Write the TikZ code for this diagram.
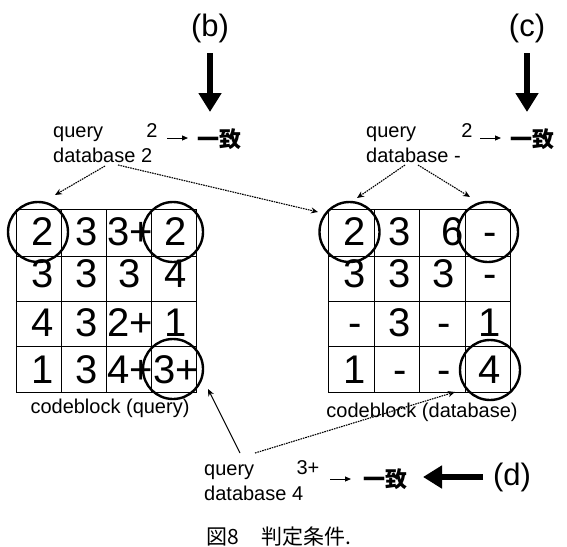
\documentclass[tikz,border=0pt]{standalone}
\usepackage{fontspec}
\setmainfont{Liberation Sans}
\newfontfamily\cjk{Noto Sans CJK JP}
\usetikzlibrary{arrows.meta}
\begin{document}
\begin{tikzpicture}[x=1pt,y=-1pt,
  gridln/.style={line width=0.9pt},
  cell/.style={inner sep=0pt,font=\fontsize{40}{40}\selectfont,text height=28.6pt,text depth=0pt},
  ring/.style={draw,circle,line width=2.4pt,minimum size=60pt,inner sep=0pt},
  lbl/.style={font=\fontsize{20}{20}\selectfont,inner sep=0pt},
  cjkl/.style={font=\fontsize{22}{22}\selectfont\cjk\bfseries,inner sep=0pt},
  capt/.style={font=\fontsize{21}{21}\selectfont\cjk,inner sep=0pt},
  big/.style={font=\fontsize{31}{31}\selectfont,inner sep=0pt},
  bigarr/.style={line width=6.5pt,-{Triangle[width=22pt,length=19pt]}},
  smallarr/.style={line width=1pt,-{Triangle[width=5pt,length=6pt]}},
  dotarr/.style={dash pattern=on 1.6pt off 0.9pt,line width=1.1pt,-{Stealth[width=6pt,length=7pt]}},
  solarr/.style={line width=0.9pt,-{Stealth[width=6pt,length=7pt]}},
]
\useasboundingbox (0,0) rectangle (567,546);

% ---------- left grid (query)
\draw[gridln] (16,209) rectangle (196,392);
\draw[gridln] (61,209) -- (61,392) (106,209) -- (106,392) (151,209) -- (151,392)
              (16,256) -- (196,256) (16,301) -- (196,301) (16,346) -- (196,346);
\foreach \r/\y in {1/231,2/273,3/322,4/369}{
  \foreach \c/\x in {1/42.5,2/87,3/130,4/176}{
    \coordinate (Lp\r\c) at (\x,\y);
  }
}
\node[cell] (L11) at (Lp11) {2};
\node[cell] (L12) at (Lp12) {3};
\node[cell] (L13) at (Lp13) {3+};
\node[cell] (L14) at (Lp14) {2};
\node[cell] (L21) at (Lp21) {3};
\node[cell] (L22) at (Lp22) {3};
\node[cell] (L23) at (Lp23) {3};
\node[cell] (L24) at (Lp24) {4};
\node[cell] (L31) at (Lp31) {4};
\node[cell] (L32) at (Lp32) {3};
\node[cell] (L33) at (Lp33) {2+};
\node[cell] (L34) at (Lp34) {1};
\node[cell] (L41) at (Lp41) {1};
\node[cell] (L42) at (Lp42) {3};
\node[cell] (L43) at (Lp43) {4+};
\node[cell] (L44) at (Lp44) {3+};
\node[lbl,anchor=base] (Lcap) at (110,413) {codeblock (query)};

% ---------- right grid (database)
\draw[gridln] (328,209) rectangle (510,392);
\draw[gridln] (374,209) -- (374,392) (419,209) -- (419,392) (465,209) -- (465,392)
              (328,256) -- (510,256) (328,301) -- (510,301) (328,346) -- (510,346);
\foreach \r/\y in {1/231,2/273,3/322,4/369}{
  \foreach \c/\x in {1/355,2/400,3/444,4/490}{
    \coordinate (Rp\r\c) at (\x,\y);
  }
}
\node[cell] (R11) at (Rp11) {2};
\node[cell] (R12) at (Rp12) {3};
\node[cell,anchor=east] (R13) at (464,231) {6};
\node[cell] (R14) at (Rp14) {-};
\node[cell] (R21) at (Rp21) {3};
\node[cell] (R22) at (Rp22) {3};
\node[cell] (R23) at (Rp23) {3};
\node[cell] (R24) at (Rp24) {-};
\node[cell] (R31) at (Rp31) {-};
\node[cell] (R32) at (Rp32) {3};
\node[cell] (R33) at (Rp33) {-};
\node[cell] (R34) at (Rp34) {1};
\node[cell] (R41) at (Rp41) {1};
\node[cell] (R42) at (Rp42) {-};
\node[cell] (R43) at (Rp43) {-};
\node[cell] (R44) at (Rp44) {4};
\node[lbl,anchor=base] (Rcap) at (422,417) {codeblock (database)};

% ---------- circles
\node[ring] (cL1) at (38,232) {};
\node[ring] (cL2) at (173,232) {};
\node[ring] (cL3) at (173,369) {};
\node[ring] (cR1) at (349.5,232) {};
\node[ring] (cR2) at (488,232) {};
\node[ring] (cR3) at (490,370) {};

% ---------- (b)
\node[big] (lb) at (210,28) {(b)};
\coordinate (bt) at (210,53);
\coordinate (bh) at (210,112);
\draw[bigarr] (bt) -- (bh);
\node[lbl,anchor=base west] (qb) at (53,137) {query};
\node[lbl,anchor=base] (qb2) at (152,137) {2};
\node[lbl,anchor=base west] (db) at (53,162) {database 2};
\coordinate (ab1) at (167,138);
\coordinate (ab2) at (188,138);
\draw[smallarr] (ab1) -- (ab2);
\node[cjkl] (mb) at (219.5,139) {一致};
\coordinate (db1) at (105,166);
\coordinate (db1t) at (55,195);
\coordinate (db2) at (118,165);
\coordinate (db2t) at (318,212);
\draw[dotarr] (db1) -- (db1t);
\draw[dotarr] (db2) -- (db2t);

% ---------- (c)
\node[big] (lc) at (527,28) {(c)};
\coordinate (ct) at (527,53);
\coordinate (ch) at (527,112);
\draw[bigarr] (ct) -- (ch);
\node[lbl,anchor=base west] (qc) at (366,137) {query};
\node[lbl,anchor=base] (qc2) at (467,137) {2};
\node[lbl,anchor=base west] (dc) at (366,162) {database -};
\coordinate (ac1) at (480,138);
\coordinate (ac2) at (501,138);
\draw[smallarr] (ac1) -- (ac2);
\node[cjkl] (mc) at (532.5,139) {一致};
\coordinate (dc1) at (405,165);
\coordinate (dc1t) at (357,198);
\coordinate (dc2) at (418,165);
\coordinate (dc2t) at (470,197);
\draw[dotarr] (dc1) -- (dc1t);
\draw[dotarr] (dc2) -- (dc2t);

% ---------- (d)
\node[lbl,anchor=base west] (qd) at (204,475) {query};
\node[lbl,anchor=base] (qd2) at (308,474) {3+};
\node[lbl,anchor=base west] (dd) at (204,500) {database 4};
\coordinate (ad1) at (330,479);
\coordinate (ad2) at (351,479);
\draw[smallarr] (ad1) -- (ad2);
\node[cjkl] (md) at (385,479) {一致};
\coordinate (dt) at (483,477);
\coordinate (dh) at (423,477);
\draw[bigarr] (dt) -- (dh);
\node[big] (ld) at (512,477) {(d)};
\coordinate (dd1) at (240,453);
\coordinate (dd1t) at (208,389);
\coordinate (dd2) at (255,453);
\coordinate (dd2t) at (455,392);
\draw[solarr] (dd1) -- (dd1t);
\draw[dotarr] (dd2) -- (dd2t);

% ---------- caption
\node[capt,anchor=west] (cap1) at (206,537) {図8};
\node[capt,anchor=west] (cap2) at (261,537) {判定条件.};
\end{tikzpicture}
\end{document}
